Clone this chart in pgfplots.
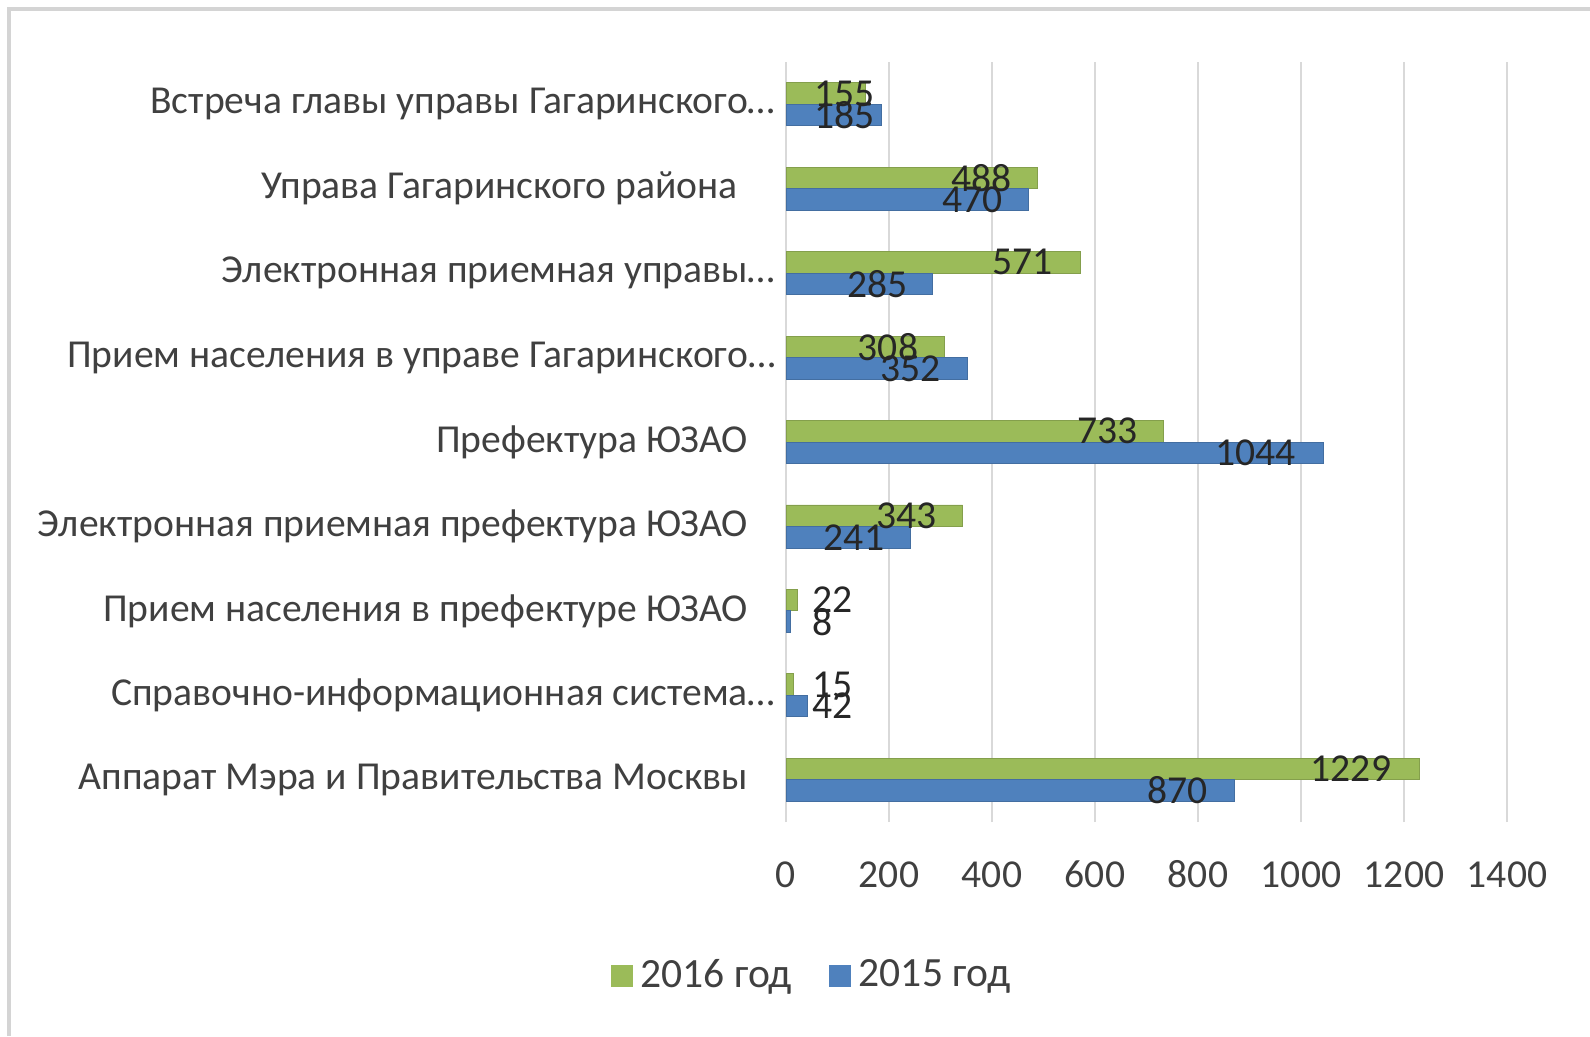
\documentclass[border=0pt]{standalone}
\usepackage{pgfplots}
\pgfplotsset{compat=1.18}
\usepackage{fontspec}
\setmainfont{Carlito}
\definecolor{g16}{HTML}{9BBB59}
\definecolor{b15}{HTML}{4F81BD}
\definecolor{txt}{HTML}{404040}
\definecolor{gridc}{HTML}{D9D9D9}
\definecolor{framec}{HTML}{D4D4D4}
\begin{document}
\fontsize{9.9pt}{12pt}\selectfont
\begin{tikzpicture}
\useasboundingbox (0,0) rectangle (397.5pt,259pt);
\draw[framec, line width=1pt] (2.25pt,0) -- (2.25pt,256.75pt) -- (397.5pt,256.75pt);
\begin{axis}[
  at={(196.5pt,53.5pt)}, anchor=south west,
  scale only axis, width=180.25pt, height=190pt,
  xmin=0, xmax=1400, ymin=-0.5, ymax=8.5,
  axis line style={draw=none},
  major tick length=0pt,
  xtick={0,200,...,1400},
  ytick={0,...,8},
  yticklabels={
    Аппарат Мэра и Правительства Москвы\hspace*{6.8pt},
    Справочно-информационная система…,
    Прием населения в префектуре ЮЗАО\hspace*{7pt},
    Электронная приемная префектура ЮЗАО\hspace*{7pt},
    Префектура ЮЗАО\hspace*{7pt},
    Прием населения в управе Гагаринского…,
    Электронная приемная управы…,
    Управа Гагаринского района\hspace*{9.4pt},
    Встреча главы управы Гагаринского…},
  xmajorgrids, grid style={gridc, line width=0.45pt},
  ticklabel style={font=\fontsize{9.9pt}{12pt}\selectfont, text=txt},
  /pgf/number format/assume math mode=true,
  /pgf/number format/1000 sep={},
  xticklabel style={anchor=north, text height=6.3pt, text depth=0pt, yshift=-6.6pt},
  yticklabel style={xshift=0.8pt},
  legend columns=2,
  legend style={at={(0.0395,-0.203)}, anchor=center, draw=none, fill=none,
    font=\fontsize{10.4pt}{12pt}\selectfont, text=txt,
    /tikz/every even column/.append style={column sep=7.25pt}},
]
\addplot[xbar, bar width=0.255, bar shift=0.1275, fill=g16, draw=g16!85!black, line width=0.2pt,
  legend image code/.code={\fill[g16] (-0.75pt,-2.625pt) rectangle (4.5pt,2.625pt);}]
  coordinates {(1229,0) (15,1) (22,2) (343,3) (733,4) (308,5) (571,6) (488,7) (155,8)};
\addlegendentry{2016 год}
\addplot[xbar, bar width=0.255, bar shift=-0.1275, fill=b15, draw=b15!85!black, line width=0.2pt,
  legend image code/.code={\fill[b15] (-0.75pt,-2.625pt) rectangle (4.5pt,2.625pt);}]
  coordinates {(870,0) (42,1) (8,2) (241,3) (1044,4) (352,5) (285,6) (470,7) (185,8)};
\addlegendentry{2015 год}
% data labels
\addplot[forget plot, only marks, mark=*, mark size=0pt, mark options={draw=none, fill=none},
  nodes near coords, point meta=explicit symbolic,
  every node near coord/.append style={anchor=center, text=black!85, font=\fontsize{9.9pt}{12pt}\selectfont}]
  coordinates {
   (1097,0.1275) [1229] (90,1.1275) [15] (90,2.1275) [22] (234,3.1275) [343]
   (624,4.1275) [733] (198,5.1275) [308] (460,6.1275) [571] (380,7.1275) [488] (113,8.1275) [155]
   (760,-0.1275) [870] (90,0.8725) [42] (71,1.8725) [8] (132,2.8725) [241]
   (911,3.8725) [1044] (242,4.8725) [352] (178,5.8725) [285] (362,6.8725) [470] (113,7.8725) [185]
  };
\end{axis}
\end{tikzpicture}
\end{document}
